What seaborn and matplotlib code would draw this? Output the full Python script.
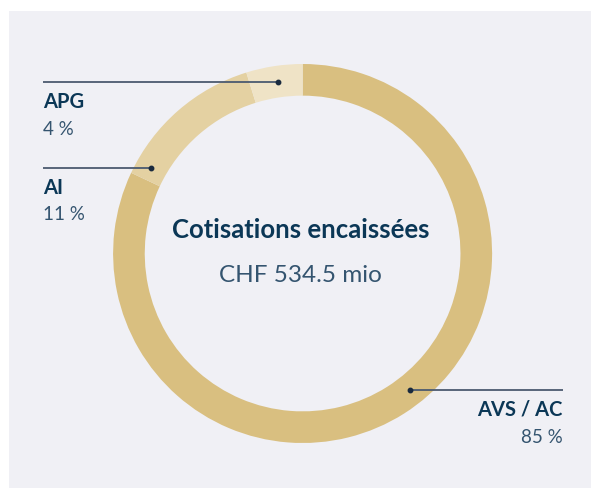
import numpy as np
import matplotlib
matplotlib.use("Agg")
import matplotlib.pyplot as plt
import seaborn as sns

# ---- data ----
categories = ["AVS / AC", "AI", "APG"]
arc_shares = [82.0, 13.2, 4.8]          # arc sizes as drawn in the picture
pct_labels = ["85 %", "11 %", "4 %"]
title_text = "Cotisations encaissées"
total_text = "CHF 534.5 mio"

# ---- style ----
sns.set_theme(style="white")
plt.rcParams["font.family"] = ["Lato", "DejaVu Sans"]
palette = sns.color_palette(["#d9bf80", "#e4d1a2", "#efe3c6"])
navy = "#0b3756"
navy_light = "#34546f"
line_col = "#4b5a70"
panel_col = "#f0f0f5"

W, H = 591, 488
fig = plt.figure(figsize=(W / 100, H / 100), dpi=100)
fig.patch.set_facecolor("white")

# background panel
bg = fig.add_axes([9 / W, 0, 1 - 9 / W, (H - 11) / H])
bg.set_facecolor(panel_col)
bg.set_xticks([]); bg.set_yticks([])
for s in bg.spines.values():
    s.set_visible(False)
bg.set_zorder(-5)

cx, cy, R = 302.6, 253.5, 189.5
ax = fig.add_axes([(cx - R) / W, (H - cy - R) / H, 2 * R / W, 2 * R / H])
ax.set_facecolor("none")
ax.patch.set_alpha(0)
ring = 0.167
ax.pie(arc_shares, colors=palette, startangle=90, counterclock=False,
       radius=1.0, wedgeprops=dict(width=ring, edgecolor="none", linewidth=0))
ax.set_xlim(-1, 1)
ax.set_ylim(-1, 1)
ax.set_aspect("equal")
ax.axis("off")

r_mid = 1 - ring / 2
leaders = {"APG": (0.907, -1), "AI": (0.451, -1), "AVS / AC": (-0.720, 1)}
x_left, x_right = -1.370, 1.374
for name, (yl, side) in leaders.items():
    xd = side * np.sqrt(r_mid ** 2 - yl ** 2)
    xe = x_left if side < 0 else x_right
    ax.plot([xe, xd], [yl, yl], color=line_col, lw=1.3, clip_on=False,
            solid_capstyle="butt", zorder=5)
    ax.plot([xd], [yl], "o", color="#1a2a3e", ms=3.2, clip_on=False, zorder=6)

label_pos = {"APG": (x_left, 0.768, 0.625, "left"),
             "AI": (x_left, 0.314, 0.177, "left"),
             "AVS / AC": (x_right, -0.856, -0.998, "right")}
for name, pct in zip(categories, pct_labels):
    x, yn, yp, ha = label_pos[name]
    ax.text(x, yn, name, ha=ha, va="baseline", fontsize=14.5,
            fontweight="bold", color=navy, clip_on=False)
    ax.text(x, yp, pct, ha=ha, va="baseline", fontsize=13.5,
            fontweight="normal", color=navy_light, clip_on=False)

ax.text(-0.01, 0.082, title_text, ha="center", va="baseline", fontsize=18.5,
        fontweight="bold", color=navy)
ax.text(-0.01, -0.149, total_text, ha="center", va="baseline", fontsize=17.5,
        fontweight="normal", color=navy_light)

fig.savefig("out.png", dpi=100, facecolor=fig.get_facecolor())
